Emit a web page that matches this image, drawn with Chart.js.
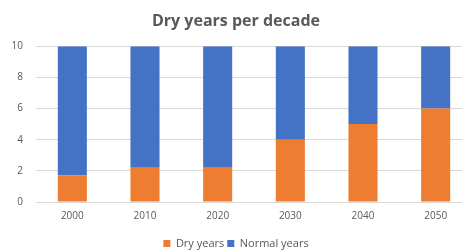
<!DOCTYPE html>
<html>
<head>
<meta charset="utf-8">
<script src="https://cdn.jsdelivr.net/npm/chart.js@4"></script>
<style>
html,body{margin:0;padding:0;background:#fff;overflow:hidden;}
#wrap{width:494px;height:250px;position:relative;}
</style>
</head>
<body>
<div id="wrap"><canvas id="c" width="494" height="250"></canvas></div>
<script>
const categories = ["2000","2010","2020","2030","2040","2050"];
const dryYears = [1.7, 2.2, 2.2, 4, 5, 6];
const normalYears = [8.3, 7.8, 7.8, 6, 5, 4];
const yTicks = [0, 2, 4, 6, 8, 10];
const titleText = "Dry years per decade";

const textColor = "#595959";
const fontFamily = "'Open Sans', 'Liberation Sans', sans-serif";

new Chart(document.getElementById("c"), {
  type: "bar",
  data: {
    labels: categories,
    datasets: [
      {label: "Dry years", data: dryYears, backgroundColor: "#ED7D31", barPercentage: 0.4, categoryPercentage: 1.0},
      {label: "Normal years", data: normalYears, backgroundColor: "#4472C4", barPercentage: 0.4, categoryPercentage: 1.0}
    ]
  },
  options: {
    responsive: false,
    animation: false,
    devicePixelRatio: 1,
    layout: {padding: {left: 0, right: 22, top: 0, bottom: -9}},
    plugins: {
      title: {
        display: true, text: titleText, color: textColor,
        font: {family: fontFamily, size: 16, weight: "bold"},
        padding: {top: 12, bottom: 15}
      },
      legend: {
        position: "bottom",
        labels: {
          color: textColor, boxWidth: 7, boxHeight: 7, padding: 3,
          font: {family: fontFamily, size: 11}
        }
      },
      tooltip: {enabled: false}
    },
    scales: {
      x: {
        stacked: true,
        afterFit: (s) => { s.height += 5; },
        grid: {display: false, drawTicks: false},
        border: {display: true, color: "#d9d9d9"},
        ticks: {color: textColor, font: {family: fontFamily, size: 10}, padding: 8}
      },
      y: {
        stacked: true, min: 0, max: 10,
        afterBuildTicks: (s) => { s.ticks = yTicks.map(v => ({value: v})); },
        afterFit: (s) => { s.width = 36; },
        grid: {color: "#d9d9d9", drawTicks: false},
        border: {display: false},
        ticks: {color: textColor, font: {family: fontFamily, size: 10}, padding: 13}
      }
    }
  }
});
</script>
</body>
</html>
